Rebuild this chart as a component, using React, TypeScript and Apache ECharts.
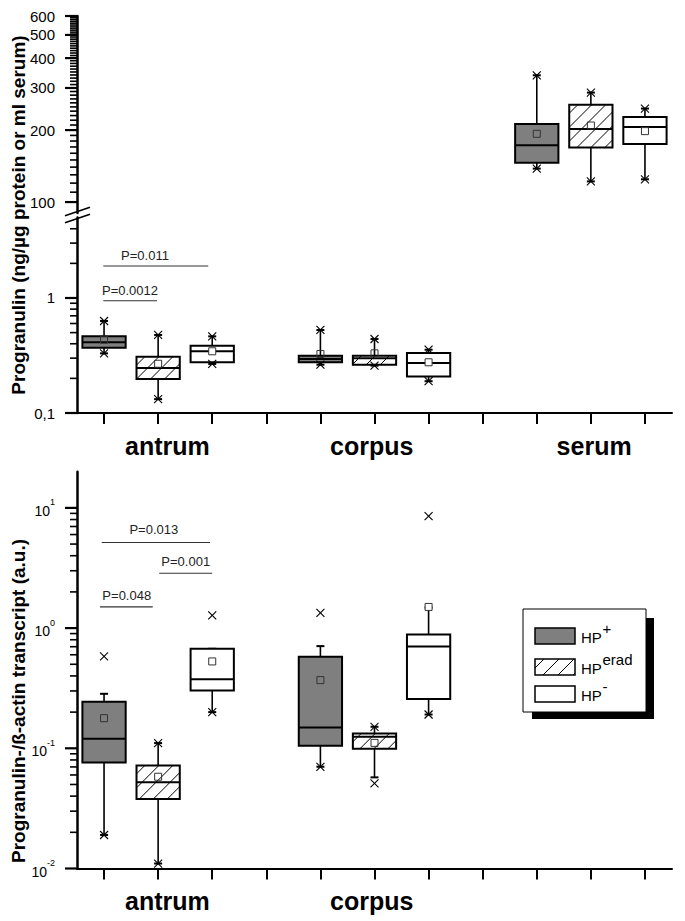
import React, { useEffect, useRef } from 'react';
import * as echarts from 'echarts';

const FONT = '"Liberation Sans", Arial, Helvetica, sans-serif';

// ---------- categories / legend ----------
const groupNames = ['antrum', 'corpus', 'serum'];
const groupLabelSlots = [1.17, 4.95, 9.06];
const boxSlots = [0, 1, 2, 3, 4, 5, 6, 7, 8, 9, 10];
const legendBase = ['HP', 'HP', 'HP'];
const legendSup = ['+', 'erad', '-'];

// ---------- top panel: progranulin protein (ng/µg protein or ml serum) ----------
// [slot, whiskerLow, q1, median, q3, whiskerHigh, mean]
const proteinTissue = [
  [0, 0.33, 0.37, 0.412, 0.464, 0.631, 0.434],
  [1, 0.132, 0.198, 0.246, 0.309, 0.477, 0.268],
  [2, 0.267, 0.276, 0.344, 0.385, 0.464, 0.344],
  [4, 0.263, 0.276, 0.295, 0.315, 0.527, 0.326],
  [5, 0.258, 0.263, 0.3, 0.315, 0.44, 0.33],
  [6, 0.189, 0.208, 0.272, 0.332, 0.355, 0.276],
];
const proteinSerum = [
  [8, 138, 146, 173, 212, 339, 193],
  [9, 122, 169, 202, 255, 287, 209],
  [10, 124.5, 175, 206, 227, 246, 198],
];
// x markers (1% / 99%): [slot, value]
const proteinTissueCrosses = [
  [0, 0.33], [0, 0.631], [1, 0.132], [1, 0.477], [2, 0.267], [2, 0.464],
  [4, 0.263], [4, 0.527], [5, 0.258], [5, 0.44], [6, 0.189], [6, 0.355],
];
const proteinSerumCrosses = [
  [8, 138], [8, 339], [9, 122], [9, 287], [10, 124.5], [10, 246],
];
// significance bars: [xFrom, xTo, y, textX, textY]
const proteinPLabels = ['P=0.011', 'P=0.0012'];
const proteinPBars = [
  [-0.014, 1.927, 1.9, 0.757, 2.32],
  [-0.014, 0.979, 0.947, 0.48, 1.157],
];
const proteinSerumRange = [90, 600];
const proteinTissueRange = [0.1, 5];
const proteinSerumMajor = [100, 200, 300, 400, 500, 600];
const proteinSerumMinor: number[] = [];
for (let v = 110; v < 600; v += 10) if (v % 100 !== 0) proteinSerumMinor.push(v);
const proteinTissueMajor = [0.1, 1];
const proteinTissueMinor = [0.2, 0.3, 0.4, 0.5, 0.6, 0.7, 0.8, 0.9, 2, 3, 4];

// ---------- bottom panel: progranulin / ß-actin transcript ----------
const transcriptBoxes = [
  [0, 0.019, 0.0763, 0.12, 0.244, 0.284, 0.178],
  [1, 0.011, 0.0378, 0.0523, 0.072, 0.1105, 0.058],
  [2, 0.2, 0.303, 0.376, 0.673, 0.673, 0.528],
  [4, 0.0702, 0.105, 0.149, 0.577, 0.708, 0.369],
  [5, 0.0573, 0.099, 0.125, 0.133, 0.151, 0.111],
  [6, 0.191, 0.257, 0.704, 0.886, 1.48, 1.5],
];
const transcriptCrosses = [
  [0, 0.019], [0, 0.582], [1, 0.011], [1, 0.1105], [2, 0.2], [2, 1.276],
  [4, 0.0702], [4, 1.34], [5, 0.051], [5, 0.151], [6, 0.191], [6, 8.55],
];
const transcriptPLabels = ['P=0.013', 'P=0.001', 'P=0.048'];
const transcriptPBars = [
  [-0.043, 1.959, 5.16, 0.92, 6.67],
  [1.02, 2.0, 2.86, 1.51, 3.55],
  [-0.075, 0.9, 1.5, 0.42, 1.87],
];
const transcriptRange = [0.01, 20];
const transcriptMajor = [0.01, 0.1, 1, 10];
const transcriptMinor = [
  0.02, 0.03, 0.04, 0.05, 0.06, 0.07, 0.08, 0.09,
  0.2, 0.3, 0.4, 0.5, 0.6, 0.7, 0.8, 0.9,
  2, 3, 4, 5, 6, 7, 8, 9,
];

const GRAY = '#7f7f7f';

function hatch(x0: number, y0: number, x1: number, y1: number, step: number) {
  const segs: number[][] = [];
  for (let c = x0 + y0 + step * 0.6; c < x1 + y1; c += step) {
    const lo = Math.max(x0, c - y1);
    const hi = Math.min(x1, c - y0);
    if (hi - lo > 0.5) segs.push([lo, c - lo, hi, c - hi]);
  }
  return segs;
}

function ln(x1: number, y1: number, x2: number, y2: number, w: number, color = '#000') {
  return { type: 'line', shape: { x1, y1, x2, y2 }, style: { stroke: color, lineWidth: w } };
}

function boxRender(params: any, api: any) {
  const slot = api.value(0);
  const wlo = api.value(1), q1 = api.value(2), med = api.value(3), q3 = api.value(4), whi = api.value(5), mean = api.value(6);
  const pMed = api.coord([slot, med]);
  const cx = pMed[0];
  const yM = pMed[1];
  const half = (api.coord([slot + 0.4, med])[0] - api.coord([slot - 0.4, med])[0]) / 2;
  const yLo = api.coord([slot, wlo])[1];
  const yQ1 = api.coord([slot, q1])[1];
  const yQ3 = api.coord([slot, q3])[1];
  const yHi = api.coord([slot, whi])[1];
  const yMean = api.coord([slot, mean])[1];
  const kind = slot % 4;
  const left = cx - half, right = cx + half;
  const children: any[] = [];
  children.push(ln(cx, yQ3, cx, yHi, 1.6));
  children.push(ln(cx, yQ1, cx, yLo, 1.6));
  children.push(ln(cx - 4, yHi, cx + 4, yHi, 2));
  children.push(ln(cx - 4, yLo, cx + 4, yLo, 2));
  children.push({
    type: 'rect',
    shape: { x: left, y: yQ3, width: right - left, height: yQ1 - yQ3 },
    style: { fill: kind === 0 ? GRAY : '#fff' },
  });
  if (kind === 1) {
    hatch(left, yQ3, right, yQ1, 14).forEach((s) => children.push(ln(s[0], s[1], s[2], s[3], 1)));
  }
  children.push({
    type: 'rect',
    shape: { x: left, y: yQ3, width: right - left, height: yQ1 - yQ3 },
    style: { fill: 'none', stroke: '#000', lineWidth: 2 },
  });
  children.push(ln(left, yM, right, yM, 2));
  children.push({
    type: 'rect',
    shape: { x: cx - 3.5, y: yMean - 3.5, width: 7, height: 7 },
    style: { fill: kind === 2 && whi >= mean * 0.95 ? '#fff' : 'none', stroke: '#333', lineWidth: 1 },
  });
  return { type: 'group', children };
}

function crossRender(params: any, api: any) {
  const p = api.coord([api.value(0), api.value(1)]);
  const r = 4;
  return {
    type: 'group',
    children: [
      ln(p[0] - r, p[1] - r, p[0] + r, p[1] + r, 1.1),
      ln(p[0] - r, p[1] + r, p[0] + r, p[1] - r, 1.1),
    ],
  };
}

// y tick marks, placed through the log axis: data [value, isMajor]
function tickRender(params: any, api: any) {
  const major = api.value(1) === 1;
  const p = api.coord([-0.5, api.value(0)]);
  const len = major ? 12 : 7;
  return ln(p[0] - len, p[1], p[0], p[1], major ? 2.2 : 1.6);
}
function tickData(major: number[], minor: number[]) {
  return major.map((v) => [v, 1]).concat(minor.map((v) => [v, 0]));
}

function pBarRender(labels: string[]) {
  return (params: any, api: any) => {
    const a = api.coord([api.value(0), api.value(2)]);
    const b = api.coord([api.value(1), api.value(2)]);
    const t = api.coord([api.value(3), api.value(4)]);
    return {
      type: 'group',
      children: [
        ln(a[0], a[1], b[0], b[1], 1.1, '#333'),
        {
          type: 'text',
          x: t[0],
          y: t[1],
          style: {
            text: labels[params.dataIndex],
            fill: '#222',
            font: `13px ${FONT}`,
            align: 'center',
            verticalAlign: 'middle',
          },
        },
      ],
    };
  };
}

function xAxisDef(gridIndex: number, labelSlots: number[], visible: boolean) {
  return {
    type: 'value',
    gridIndex,
    min: -0.5,
    max: 10.5,
    show: visible,
    splitLine: { show: false },
    axisLine: { show: true, onZero: false, lineStyle: { color: '#000', width: 2 } },
    axisTick: { show: true, customValues: boxSlots, length: 11, lineStyle: { color: '#000', width: 2 } },
    axisLabel: {
      show: true,
      customValues: labelSlots,
      formatter: (v: number) => {
        let best = 0;
        groupLabelSlots.forEach((s, i) => { if (Math.abs(s - v) < Math.abs(groupLabelSlots[best] - v)) best = i; });
        return groupNames[best];
      },
      fontSize: 25,
      fontWeight: 'bold',
      fontFamily: FONT,
      color: '#000',
      margin: 20,
    },
  };
}

function yLogAxis(gridIndex: number, range: number[], labels: number[], formatter: any, rich?: any) {
  const lbl: any = {
    show: true,
    customValues: labels,
    formatter,
    fontSize: 15,
    fontFamily: FONT,
    color: '#000',
    margin: 22,
  };
  if (rich) lbl.rich = rich;
  return {
    type: 'log',
    logBase: 10,
    gridIndex,
    position: 'left',
    min: range[0],
    max: range[1],
    splitLine: { show: false },
    axisLine: { show: true, onZero: false, lineStyle: { color: '#000', width: 2.5 } },
    axisTick: { show: false },
    axisLabel: lbl,
  };
}

function buildOption(): any {
  const legendY = [628, 659, 686];
  const legendGraphics: any[] = [
    { type: 'rect', shape: { x: 532, y: 618, width: 122, height: 101 }, style: { fill: '#000' } },
    { type: 'rect', shape: { x: 523, y: 609, width: 123, height: 103 }, style: { fill: '#fff', stroke: '#000', lineWidth: 1 } },
  ];
  legendY.forEach((y, i) => {
    legendGraphics.push({
      type: 'rect',
      shape: { x: 535, y, width: 40, height: 16 },
      style: { fill: i === 0 ? GRAY : '#fff' },
    });
    if (i === 1) {
      hatch(535, y, 575, y + 16, 15).forEach((s) =>
        legendGraphics.push({ type: 'line', shape: { x1: s[0], y1: s[1], x2: s[2], y2: s[3] }, style: { stroke: '#000', lineWidth: 1 } })
      );
    }
    legendGraphics.push({
      type: 'rect',
      shape: { x: 535, y, width: 40, height: 16 },
      style: { fill: 'none', stroke: '#000', lineWidth: 1.5 },
    });
    legendGraphics.push({
      type: 'text',
      x: 581,
      y: y + 9,
      style: { text: legendBase[i], font: `15px ${FONT}`, fill: '#000', verticalAlign: 'middle', align: 'left' },
    });
    legendGraphics.push({
      type: 'text',
      x: 602.5,
      y: y,
      style: { text: legendSup[i], font: `15px ${FONT}`, fill: '#000', verticalAlign: 'middle', align: 'left' },
    });
  });

  const custom = (xAxisIndex: number, yAxisIndex: number, data: number[][], renderItem: any, encode: any) => ({
    type: 'custom',
    xAxisIndex,
    yAxisIndex,
    data,
    renderItem,
    encode,
    silent: true,
  });
  const boxEnc = { x: 0, y: [1, 2, 3, 4, 5, 6] };
  const ptEnc = { x: 0, y: 1 };
  const tickEnc = { x: 1, y: 0 };
  const barEnc = { x: [0, 1, 3], y: [2, 4] };

  return {
    animation: false,
    backgroundColor: '#fff',
    grid: [
      { left: 77, right: 13, top: 16, height: 197, outerBoundsMode: 'none', containLabel: false },
      { left: 77, right: 13, top: 217.6, height: 195.4, outerBoundsMode: 'none', containLabel: false },
      { left: 77, right: 13, top: 471.7, height: 396.8, outerBoundsMode: 'none', containLabel: false },
    ],
    xAxis: [
      xAxisDef(0, [], false),
      xAxisDef(1, groupLabelSlots, true),
      xAxisDef(2, groupLabelSlots.slice(0, 2), true),
    ],
    yAxis: [
      yLogAxis(0, proteinSerumRange, proteinSerumMajor, (v: number) => String(Math.round(v))),
      yLogAxis(1, proteinTissueRange, proteinTissueMajor, (v: number) => (v < 0.5 ? '0,1' : '1')),
      yLogAxis(
        2,
        transcriptRange,
        transcriptMajor,
        (v: number) => `{b|10}{s|${Math.round(Math.log10(v))}}`,
        {
          b: { fontSize: 14, lineHeight: 20, verticalAlign: 'bottom', fontFamily: FONT, color: '#000' },
          s: { fontSize: 9, lineHeight: 9, verticalAlign: 'top', fontFamily: FONT, color: '#000' },
        }
      ),
    ],
    series: [
      custom(0, 0, tickData(proteinSerumMajor, proteinSerumMinor), tickRender, tickEnc),
      custom(1, 1, tickData(proteinTissueMajor, proteinTissueMinor), tickRender, tickEnc),
      custom(2, 2, tickData(transcriptMajor, transcriptMinor), tickRender, tickEnc),
      custom(1, 1, proteinTissue, boxRender, boxEnc),
      custom(0, 0, proteinSerum, boxRender, boxEnc),
      custom(1, 1, proteinTissueCrosses, crossRender, ptEnc),
      custom(0, 0, proteinSerumCrosses, crossRender, ptEnc),
      custom(1, 1, proteinPBars, pBarRender(proteinPLabels), barEnc),
      custom(2, 2, transcriptBoxes, boxRender, boxEnc),
      custom(2, 2, transcriptCrosses, crossRender, ptEnc),
      custom(2, 2, transcriptPBars, pBarRender(transcriptPLabels), barEnc),
    ],
    graphic: [
      {
        type: 'text',
        x: 18,
        y: 215,
        rotation: Math.PI / 2,
        style: { text: 'Progranulin (ng/µg protein or ml serum)', font: `bold 19px ${FONT}`, fill: '#000', align: 'center', verticalAlign: 'middle' },
      },
      {
        type: 'text',
        x: 18,
        y: 701,
        rotation: Math.PI / 2,
        style: { text: 'Progranulin-/ß-actin transcript (a.u.)', font: `bold 19px ${FONT}`, fill: '#000', align: 'center', verticalAlign: 'middle' },
      },
      { type: 'line', shape: { x1: 65, y1: 215.7, x2: 90, y2: 207.3 }, style: { stroke: '#000', lineWidth: 1.6 } },
      { type: 'line', shape: { x1: 65, y1: 222.7, x2: 90, y2: 214.3 }, style: { stroke: '#000', lineWidth: 1.6 } },
      ...legendGraphics,
    ],
  };
}

export default function App() {
  const ref = useRef<HTMLDivElement>(null);
  useEffect(() => {
    const chart = echarts.init(ref.current as HTMLDivElement, null, { renderer: 'svg' });
    chart.setOption(buildOption());
    return () => chart.dispose();
  }, []);
  return (
    <div
      ref={ref}
      style={{ position: 'absolute', left: 0, top: 0, width: 685, height: 921, background: '#fff' }}
    />
  );
}
